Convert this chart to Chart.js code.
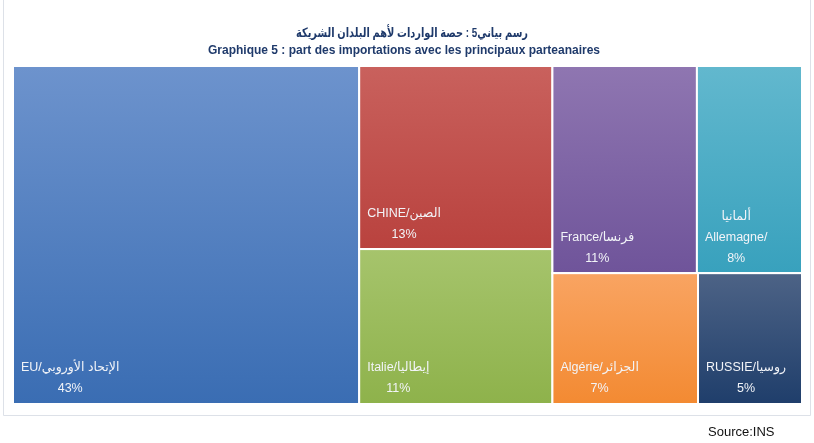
<!DOCTYPE html>
<html><head><meta charset="utf-8">
<script src="https://cdn.jsdelivr.net/npm/chart.js@4.4.0/dist/chart.umd.min.js"></script>
<style>html,body{margin:0;padding:0;background:#fff;overflow:hidden}</style>
</head><body>
<canvas id="c" width="814" height="443"></canvas>
<script>
// ---- data ----
const partners = ['EU', 'CHINE', 'Italie', 'France', 'Allemagne', 'Algérie', 'RUSSIE'];
const labelLines = [
  ['EU/الإتحاد الأوروبي'],
  ['CHINE/الصين'],
  ['Italie/إيطاليا'],
  ['France/فرنسا'],
  ['ألمانيا', 'Allemagne/'],
  ['Algérie/الجزائر'],
  ['RUSSIE/روسيا']
];
const shares = [43, 13, 11, 11, 8, 7, 5];
const titleLines = [
  'رسم بياني5 : حصة الواردات لأهم البلدان الشريكة',
  'Graphique 5 : part des importations avec les principaux parteanaires'
];
const sourceText = 'Source:INS';

// ---- styles ----
const colorsTop =    ['#6d93cd', '#c9615d', '#a6c46c', '#8f76b1', '#62b8ce', '#f9a462', '#4d6386'];
const colorsBottom = ['#3a6db3', '#b9423e', '#8eb24b', '#6f549a', '#38a1bd', '#f38a32', '#1f3e6b'];

function worst(row, side) {
  const s = row.reduce((a, b) => a + b, 0);
  const mx = Math.max(...row), mn = Math.min(...row);
  return Math.max(side * side * mx / (s * s), (s * s) / (side * side * mn));
}
function squarify(areas, rect) {
  const out = [];
  let i = 0, r = Object.assign({}, rect);
  while (i < areas.length) {
    const side = Math.min(r.w, r.h);
    let row = [areas[i]], j = i + 1;
    while (j < areas.length) {
      const nr = row.concat(areas[j]);
      if (worst(nr, side) <= worst(row, side)) { row = nr; j++; } else break;
    }
    const s = row.reduce((a, b) => a + b, 0);
    if (r.w >= r.h) {
      const cw = s / r.h; let yy = r.y;
      row.forEach(a => { const hh = a / cw; out.push({x: r.x, y: yy, w: cw, h: hh}); yy += hh; });
      r = {x: r.x + cw, y: r.y, w: r.w - cw, h: r.h};
    } else {
      const rh = s / r.w; let xx = r.x;
      row.forEach(a => { const ww = a / rh; out.push({x: xx, y: r.y, w: ww, h: rh}); xx += ww; });
      r = {x: r.x, y: r.y + rh, w: r.w, h: r.h - rh};
    }
    i = j;
  }
  return out;
}

const FONT = '"Liberation Sans", "DejaVu Sans", sans-serif';

const treemapPlugin = {
  id: 'treemap',
  beforeDraw(chart) {
    const ctx = chart.ctx;
    ctx.save();
    ctx.fillStyle = '#ffffff';
    ctx.fillRect(0, 0, chart.width, chart.height);
    // frame
    ctx.strokeStyle = '#dde1e8';
    ctx.lineWidth = 1;
    ctx.beginPath();
    ctx.moveTo(3.5, 0); ctx.lineTo(3.5, 415.5); ctx.lineTo(810.5, 415.5); ctx.lineTo(810.5, 0);
    ctx.stroke();
    // titles
    ctx.fillStyle = '#1f3a6b';
    ctx.textAlign = 'center';
    ctx.textBaseline = 'middle';
    ctx.direction = 'rtl';
    ctx.font = 'bold 13px ' + FONT;
    ctx.fillText(titleLines[0], 412, 33, 232);
    ctx.direction = 'ltr';
    ctx.font = 'bold 12px "Liberation Sans Narrow", ' + FONT;
    ctx.fillText(titleLines[1], 404, 51, 392);
    // source
    ctx.fillStyle = '#111111';
    ctx.font = '13px ' + FONT;
    ctx.textAlign = 'left';
    ctx.fillText(sourceText, 708, 432, 69);
    ctx.restore();
  },
  beforeDatasetsDraw(chart) {
    const ctx = chart.ctx, ca = chart.chartArea;
    const xs = chart.scales.x, ys = chart.scales.y;
    const W = ca.right - ca.left, H = ca.bottom - ca.top;
    const total = shares.reduce((a, b) => a + b, 0);
    const areas = shares.map(v => v / total * W * H);
    const rects = squarify(areas, {x: 0, y: 0, w: W, h: H});
    ctx.save();
    rects.forEach((r, i) => {
      const x0 = xs.getPixelForValue(r.x / W), x1 = xs.getPixelForValue((r.x + r.w) / W);
      const y0 = ys.getPixelForValue(r.y / H), y1 = ys.getPixelForValue((r.y + r.h) / H);
      const g = ctx.createLinearGradient(0, y0, 0, y1);
      g.addColorStop(0, colorsTop[i]);
      g.addColorStop(1, colorsBottom[i]);
      ctx.fillStyle = g;
      ctx.fillRect(x0, y0, x1 - x0, y1 - y0);
      ctx.strokeStyle = '#ffffff';
      ctx.lineWidth = 2;
      ctx.strokeRect(x0, y0, x1 - x0, y1 - y0);
      // labels
      const lines = labelLines[i].concat([shares[i] + '%']);
      ctx.font = '12.5px ' + FONT;
      ctx.fillStyle = '#f2f4f8';
      ctx.textBaseline = 'middle';
      ctx.textAlign = 'center';
      ctx.direction = 'ltr';
      const maxW = Math.max(...lines.map(l => ctx.measureText(l).width));
      const cx = x0 + 8 + maxW / 2;
      lines.forEach((l, k) => {
        const cy = y1 - 15 - (lines.length - 1 - k) * 21;
        ctx.fillText(l, cx, cy);
      });
    });
    ctx.restore();
  }
};

new Chart(document.getElementById('c'), {
  type: 'scatter',
  data: { datasets: [{ label: 'parts', data: [], pointRadius: 0 }] },
  options: {
    responsive: false,
    animation: false,
    devicePixelRatio: 1,
    layout: { padding: { left: 13, right: 12, top: 66, bottom: 39 } },
    scales: {
      x: { type: 'linear', min: 0, max: 1, display: false },
      y: { type: 'linear', min: 0, max: 1, reverse: true, display: false }
    },
    plugins: { legend: { display: false }, tooltip: { enabled: false }, title: { display: false } }
  },
  plugins: [treemapPlugin]
});
</script>
</body></html>
